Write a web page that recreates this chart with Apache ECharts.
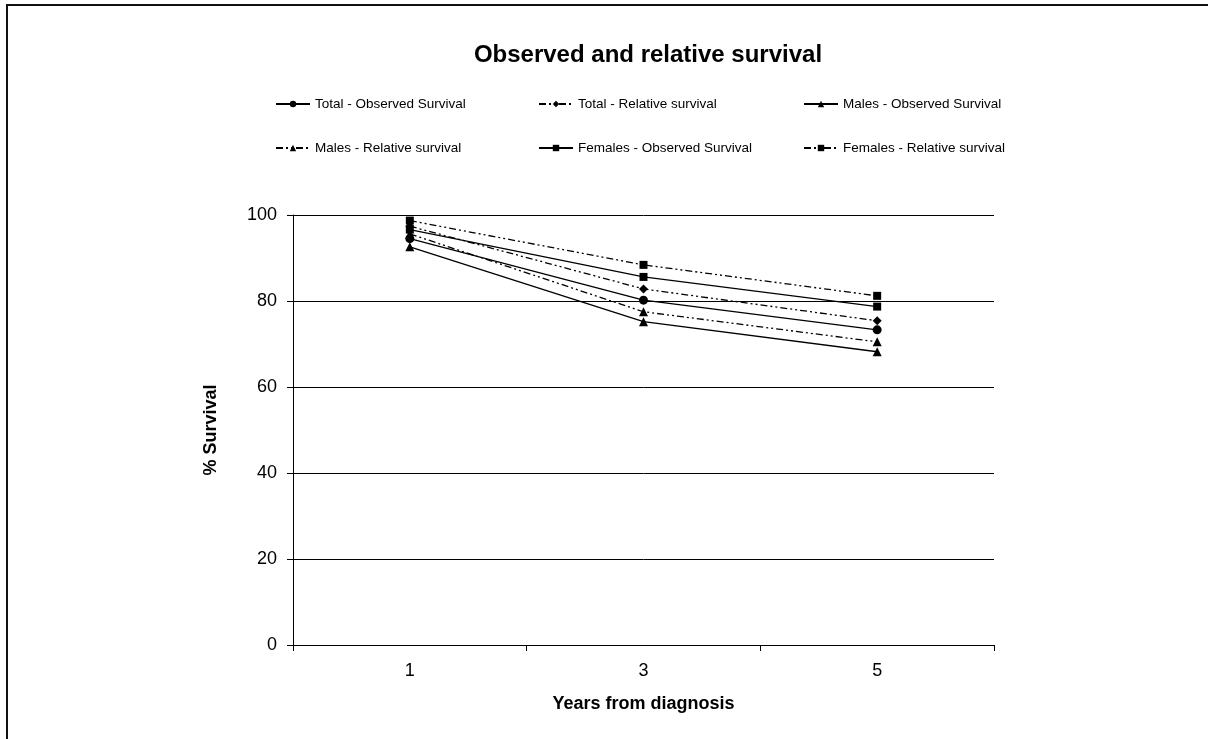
<!DOCTYPE html>
<html><head><meta charset="utf-8">
<script src="https://cdn.jsdelivr.net/npm/echarts@6/dist/echarts.min.js"></script>
<style>html,body{margin:0;padding:0;background:#fff}#c{width:1208px;height:739px}</style>
</head><body><div id="c"></div>
<script>
const categories = ['1', '3', '5'];
const totalObserved = [94.5, 80.2, 73.3];
const totalRelative = [97.4, 82.8, 75.4];
const malesObserved = [92.6, 75.2, 68.2];
const malesRelative = [95.6, 77.5, 70.5];
const femalesObserved = [96.6, 85.6, 78.7];
const femalesRelative = [98.7, 88.4, 81.2];
const yTicks = [0, 20, 40, 60, 80, 100];

const FONT = '"Liberation Sans", Arial, sans-serif';
const dashPattern = [7, 3, 2, 3, 2, 3];
function mk(name, data, symbol, rel, size) {
  return {
    name, type: 'line', data, symbol, symbolSize: size,
    itemStyle: { color: '#000' },
    lineStyle: { color: '#000', width: 1.3, type: rel ? dashPattern : 'solid' },
    emphasis: { disabled: true }, animation: false
  };
}
const series = [
  mk('Total - Observed Survival', totalObserved, 'circle', false, 9),
  mk('Total - Relative survival', totalRelative, 'diamond', true, 9),
  mk('Males - Observed Survival', malesObserved, 'triangle', false, 9),
  mk('Males - Relative survival', malesRelative, 'triangle', true, 9),
  mk('Females - Observed Survival', femalesObserved, 'rect', false, 8),
  mk('Females - Relative survival', femalesRelative, 'rect', true, 8)
];
const legendPos = [[275, 97], [538, 97], [803, 97], [275, 141], [538, 141], [803, 141]];
const legends = series.map((s, i) => ({
  data: [s.name], left: legendPos[i][0], top: legendPos[i][1], padding: 0,
  itemWidth: 34, itemHeight: 8, itemGap: 4, selectedMode: false,
  textStyle: { fontFamily: FONT, fontSize: 13.5, color: '#000' }
}));

const chart = echarts.init(document.getElementById('c'), null, { renderer: 'canvas' });
chart.setOption({
  backgroundColor: '#fff',
  animation: false,
  title: {
    text: 'Observed and relative survival', left: 643, top: 38, textAlign: 'center',
    textStyle: { fontFamily: FONT, fontSize: 24, fontWeight: 'bold', color: '#000' }
  },
  legend: legends,
  graphic: [{
    type: 'rect', shape: { x: 7, y: 5, width: 1400, height: 900 },
    style: { fill: 'none', stroke: '#111', lineWidth: 2 }, silent: true, z: 100
  }],
  grid: { left: 293, right: 214, top: 215, bottom: 94 },
  xAxis: {
    type: 'category', data: categories, boundaryGap: true,
    name: 'Years from diagnosis', nameLocation: 'middle', nameGap: 50,
    nameTextStyle: { fontFamily: FONT, fontSize: 18, fontWeight: 'bold', color: '#000' },
    axisLine: { lineStyle: { color: '#000', width: 1 } },
    axisTick: { show: true, length: 6, lineStyle: { color: '#000' } },
    axisLabel: { fontFamily: FONT, fontSize: 18, color: '#000', margin: 17 }
  },
  yAxis: {
    type: 'value', min: yTicks[0], max: yTicks[yTicks.length - 1], interval: 20,
    name: '% Survival', nameLocation: 'middle', nameGap: 73, nameRotate: 90,
    nameTextStyle: { fontFamily: FONT, fontSize: 18, fontWeight: 'bold', color: '#000' },
    axisLine: { show: true, lineStyle: { color: '#000', width: 1 } },
    axisTick: { show: true, length: 6, lineStyle: { color: '#000' } },
    axisLabel: { fontFamily: FONT, fontSize: 18, color: '#000', margin: 16 },
    splitLine: { show: true, lineStyle: { color: '#000', width: 1 } }
  },
  series
});
</script></body></html>
